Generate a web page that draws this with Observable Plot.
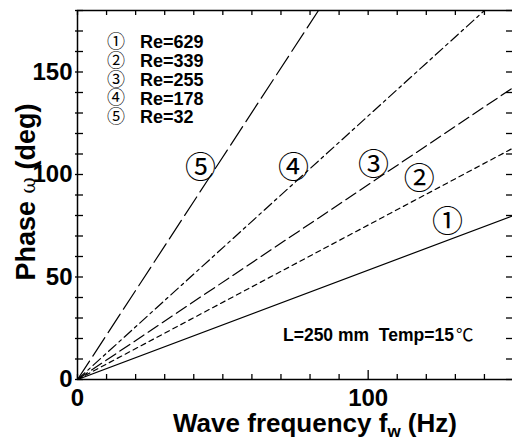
<!DOCTYPE html>
<html><head><meta charset="utf-8">
<script src="https://cdn.jsdelivr.net/npm/d3@7"></script>
<script src="https://cdn.jsdelivr.net/npm/@observablehq/plot@0.6"></script>
<style>body{margin:0;background:#fff} svg{display:block}</style>
</head><body><div id="chart"></div>
<script>
// Data
const seriesMarks = ["①","②","③","④","⑤"];
const reynolds = [629, 339, 255, 178, 32];
const endFreq  = [150, 150, 150, 140, 82.9];   // Hz
const endPhase = [80, 113, 142.5, 180, 180];   // deg
const labelFreq  = [127.3, 117.6, 101.8, 74.3, 42.3];
const labelPhase = [76.6, 98, 104.4, 103, 103];
const xTickLabels = [0, 100];
const yTickLabels = [0, 50, 100, 150];
const xMinor = d3.range(0, 151, 10);
const yMinor = d3.range(0, 181, 10);

const dashes = [null, "5,4", "12,5", "10,4,3,4", "22,6"];
const bold = "Liberation Sans, Arial, Helvetica, sans-serif";
const sym = "Noto Sans CJK JP, DejaVu Sans, sans-serif";

const W = 512, H = 441, mL = 77, mT = 10, mB = 62, mR = -1;
const fw = W - mL - mR, fh = H - mT - mB;   // frame size in px

const lineMarks = seriesMarks.map((s, i) =>
  Plot.line([{f: 0, p: 0}, {f: endFreq[i], p: endPhase[i]}],
    {x: "f", y: "p", stroke: "#000", strokeWidth: 1.2, strokeDasharray: dashes[i], clip: true}));

const labels = seriesMarks.map((s, i) => ({s, f: labelFreq[i], p: labelPhase[i]}));
const tk = {stroke: "#000", strokeWidth: 1.3};

const plot = Plot.plot({
  width: W, height: H,
  marginLeft: mL, marginTop: mT, marginBottom: mB, marginRight: mR,
  x: {domain: [0, 150], label: null},
  y: {domain: [0, 180], label: null},
  style: {fontFamily: bold, background: "#fff", color: "#000"},
  marks: [
    ...lineMarks,
    Plot.frame({stroke: "#000", strokeWidth: 1.5}),
    Plot.tickX(xMinor.filter(d => d !== 100), {x: d => d, insetTop: fh - 5, ...tk}),
    Plot.tickX([100], {x: d => d, insetTop: fh - 9, ...tk}),
    Plot.tickX(xMinor, {x: d => d, insetBottom: fh - 5, ...tk}),
    Plot.tickY(yMinor, {y: d => d, insetLeft: -2, insetRight: fw - 6, ...tk}),
    Plot.tickY(yMinor, {y: d => d, insetLeft: fw - 7, ...tk}),
    Plot.axisX({ticks: xTickLabels, tickSize: 0, tickPadding: 9, label: null, fontSize: 24, fontWeight: "bold", tickFormat: d => d}),
    Plot.axisY({ticks: yTickLabels, tickSize: 0, tickPadding: 5, label: null, fontSize: 24, fontWeight: "bold", tickFormat: d => d}),
    Plot.text(labels, {x: "f", y: "p", text: "s", fontSize: 31, fontFamily: sym, fill: "#000"})
  ]
});
document.getElementById("chart").append(plot);

const svg = d3.select(plot);
const lg = svg.append("g").attr("fill", "#000");
seriesMarks.forEach((s, i) => {
  const y = 42 + 18.7 * i;
  lg.append("text").attr("x", 116).attr("y", y).attr("dy", "0.35em").attr("text-anchor", "middle")
    .attr("font-family", sym).attr("font-size", 18).text(s);
  lg.append("text").attr("x", 140).attr("y", y).attr("dy", "0.36em").attr("text-anchor", "start")
    .attr("font-family", bold).attr("font-weight", "bold").attr("font-size", 18).text("Re=" + reynolds[i]);
});
const ann = svg.append("text").attr("x", 283).attr("y", 341).attr("text-anchor", "start").attr("font-family", bold)
  .attr("font-weight", "bold").attr("font-size", 17.5).style("white-space", "pre");
ann.append("tspan").text("L=250 mm  Temp=15");
ann.append("tspan").attr("font-family", sym).attr("font-weight", "normal").attr("dx", 2).text("℃");
const xl = svg.append("text").attr("x", 315).attr("y", 432).attr("text-anchor", "middle")
  .attr("font-family", bold).attr("font-weight", "bold").attr("font-size", 26);
xl.append("tspan").text("Wave frequency f");
xl.append("tspan").attr("font-size", 17).attr("dy", 5).text("w");
xl.append("tspan").attr("dy", -5).text(" (Hz)");
const yl = svg.append("text").attr("transform", "translate(35,192) rotate(-90)").attr("text-anchor", "middle")
  .attr("font-family", bold).attr("font-weight", "bold").attr("font-size", 27);
yl.append("tspan").text("Phase ");
yl.append("tspan").attr("font-family", "DejaVu Serif, serif").attr("font-weight", "normal").attr("font-size", 20).text("ω");
yl.append("tspan").text(" (deg)");
</script>
</body></html>
